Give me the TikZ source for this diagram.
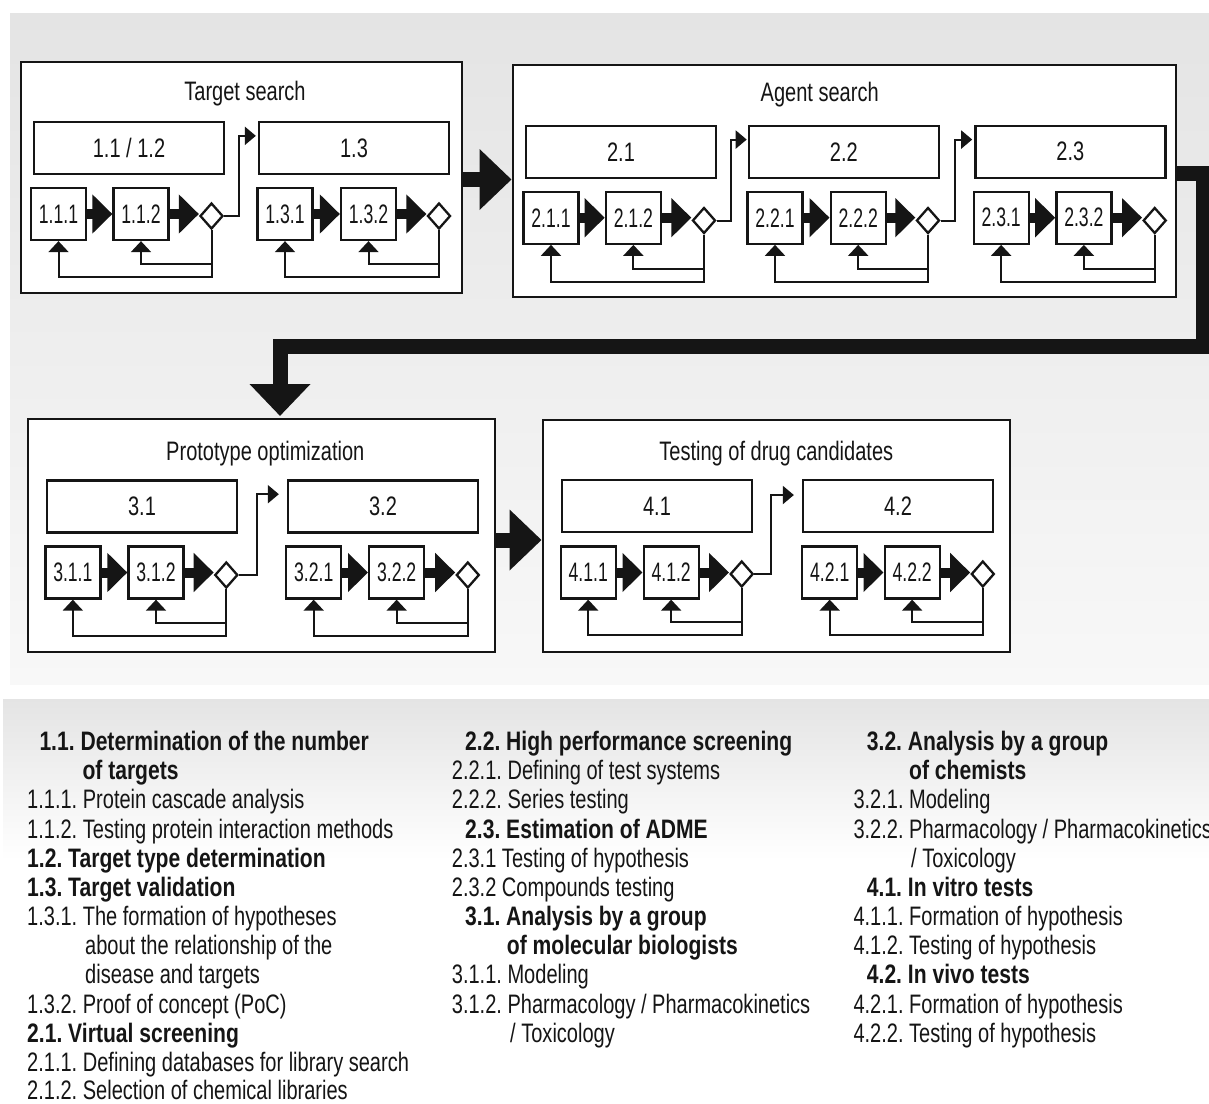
\documentclass[tikz,border=0pt]{standalone}
\usepackage{fontspec}
\setmainfont{Liberation Sans}[FakeStretch=0.75, BoldFeatures={FakeStretch=0.79}]
\newfontfamily\boxfont{Liberation Sans}[FakeStretch=0.66]
\usetikzlibrary{arrows.meta,shapes.geometric,calc}
\definecolor{bgtop}{HTML}{E4E4E4}
\definecolor{bgbot}{HTML}{F8F8F8}
\definecolor{ink}{HTML}{151515}
\frenchspacing
\tikzset{
  every node/.style={font=\fontsize{26.7}{29}\selectfont, text=ink},
  grp/.style={draw=ink, line width=2.3pt, fill=white, inner sep=0pt},
  midbox/.style={draw=ink, line width=2.3pt, fill=white, minimum width=190pt, minimum height=52pt, inner sep=0pt},
  smallbox/.style={draw=ink, line width=2.3pt, fill=white, minimum width=55pt, minimum height=52pt, inner sep=0pt, font=\fontsize{26.7}{29}\boxfont},
  dec/.style={diamond, draw=ink, line width=2.3pt, fill=white, minimum width=23pt, minimum height=26pt, inner sep=0pt},
  fat/.style={draw=ink, line width=10pt, -{Triangle[length=20pt,width=38pt]}},
  big/.style={draw=ink, line width=15pt, -{Triangle[length=32pt,width=59pt]}},
  fb/.style={draw=ink, line width=2pt, -{Triangle[length=11pt,width=20pt]}},
  nx/.style={draw=ink, line width=2pt, -{Triangle[length=11pt,width=18pt]}},
  ttl/.style={inner sep=0pt, anchor=base},
  lg/.style={anchor=base west, inner sep=0pt},
  lgb/.style={anchor=base west, inner sep=0pt, font=\fontsize{26.7}{29}\selectfont\bfseries},
}
% one row of two small steps, a decision and its feedback loops
\newcommand\subrow[8]{%
  \node[smallbox] (#1a) at (#4,#7) {#2};
  \node[smallbox] (#1b) at (#5,#7) {#3};
  \node[dec] (#1d) at (#6,#8) {};
  \draw[fat] (#1a.east) -- (#1a.east -| #1b.west);
  \draw[fat] (#1b.east) -- (#1b.east -| #1d.west);
  \draw[fb] (#1d.south) -- ++(0,47) -| (#1a.south);
  \draw[fb] (#1d.south) -- ++(0,34) -| (#1b.south);
}
\newcommand\lgl[5]{\node[#2] (#1) at (#3,{750.5+29.17*#4}) {#5};}
\begin{document}
\begin{tikzpicture}[x=1pt,y=-1pt]
\useasboundingbox (0,0) rectangle (1209,1103);
\fill[white] (0,0) rectangle (1209,1103);
\shade[top color=bgtop,bottom color=bgbot] (10,13) rectangle (1209,684);
\shade[top color=bgtop,bottom color=white] (3,699) rectangle (1209,860);

% ---------- Group 1
\node[grp, minimum width=441pt, minimum height=231.6pt] (g1) at (241.2,177.5) {};
\node[ttl] (t1) at (245,100.5) {Target search};
\node[midbox] (m11) at (129,148) {1.1 / 1.2};
\node[midbox] (m13) at (354,148) {1.3};
\subrow{s11}{1.1.1}{1.1.2}{58.5}{141}{211.5}{214}{216}
\subrow{s13}{1.3.1}{1.3.2}{285}{368.5}{439}{214}{216}
\draw[nx] (s11d.east) -- ++(15,0) |- ([yshift=-15pt,xshift=-2pt]m13.north west);

% ---------- Group 2
\node[grp, minimum width=663.3pt, minimum height=232pt] (g2) at (844.35,181) {};
\node[ttl] (t2) at (819.7,101.7) {Agent search};
\node[midbox] (m21) at (621,151.7) {2.1};
\node[midbox] (m22) at (843.85,151.7) {2.2};
\node[midbox] (m23) at (1070.35,151.7) {2.3};
\subrow{s21}{2.1.1}{2.1.2}{551}{633.35}{704}{217.7}{220.5}
\subrow{s22}{2.2.1}{2.2.2}{775}{858.2}{928}{217.7}{220.5}
\subrow{s23}{2.3.1}{2.3.2}{1001.15}{1083.85}{1154.7}{217.7}{220.5}
\draw[nx] (s21d.east) -- ++(14,0) |- ([yshift=-15pt,xshift=-1pt]m22.north west);
\draw[nx] (s22d.east) -- ++(14,0) |- ([yshift=-15pt,xshift=-2pt]m23.north west);

% ---------- Group 3
\node[grp, minimum width=467.3pt, minimum height=232.4pt] (g3) at (261.35,535.5) {};
\node[ttl] (t3) at (265.3,460) {Prototype optimization};
\node[midbox] (m31) at (142,506.35) {3.1};
\node[midbox] (m32) at (383,506.35) {3.2};
\subrow{s31}{3.1.1}{3.1.2}{72.85}{156}{226.3}{572.5}{575}
\subrow{s32}{3.2.1}{3.2.2}{313.7}{396.65}{467.8}{572.5}{575}
\draw[nx] (s31d.east) -- ++(18,0) |- ([yshift=-15pt,xshift=-8pt]m32.north west);

% ---------- Group 4
\node[grp, minimum width=467.3pt, minimum height=231.7pt] (g4) at (776.35,535.85) {};
\node[ttl] (t4) at (776.3,460) {Testing of drug candidates};
\node[midbox] (m41) at (657,506.15) {4.1};
\node[midbox] (m42) at (898,506.15) {4.2};
\subrow{s41}{4.1.1}{4.1.2}{588.2}{671.15}{741.7}{572.5}{574}
\subrow{s42}{4.2.1}{4.2.2}{829.7}{912.15}{982.8}{572.5}{574}
\draw[nx] (s41d.east) -- ++(17,0) |- ([yshift=-16pt,xshift=-8pt]m42.north west);

% ---------- Big connectors
\coordinate (a1) at ($(g1.east)+(0,2)$);
\draw[big] (a1) -- (a1 -| g2.west);
\coordinate (a3) at ($(g3.east)+(0,4.5)$);
\draw[big] (a3) -- (a3 -| g4.west);
\coordinate (k0) at ($(g2.east)+(0,-8)$);
\coordinate (k1) at (1203.5,173);
\coordinate (k2) at (1203.5,346);
\coordinate (k3) at (280,346);
\coordinate (k4) at (280,416);
\draw[big] (k0) -- (k1) -- (k2) -- (k3) -- (k4);

% ---------- Legend, column 1
\lgl{c1l0}{lgb}{39.3}{0}{1.1. Determination of the number}
\lgl{c1l1}{lgb}{82.3}{1}{of targets}
\lgl{c1l2}{lg}{27}{2}{1.1.1. Protein cascade analysis}
\lgl{c1l3}{lg}{27}{3}{1.1.2. Testing protein interaction methods}
\lgl{c1l4}{lgb}{27}{4}{1.2. Target type determination}
\lgl{c1l5}{lgb}{27}{5}{1.3. Target validation}
\lgl{c1l6}{lg}{27}{6}{1.3.1. The formation of hypotheses}
\lgl{c1l7}{lg}{85}{7}{about the relationship of the}
\lgl{c1l8}{lg}{85}{8}{disease and targets}
\lgl{c1l9}{lg}{27}{9}{1.3.2. Proof of concept (PoC)}
\lgl{c1l10}{lgb}{27}{10}{2.1. Virtual screening}
\lgl{c1l11}{lg}{27}{11}{2.1.1. Defining databases for library search}
\lgl{c1l12}{lg}{27}{11.97}{2.1.2. Selection of chemical libraries}

% ---------- Legend, column 2
\lgl{c2l0}{lgb}{465}{0}{2.2. High performance screening}
\lgl{c2l1}{lg}{451.7}{1}{2.2.1. Defining of test systems}
\lgl{c2l2}{lg}{451.7}{2}{2.2.2. Series testing}
\lgl{c2l3}{lgb}{465}{3}{2.3. Estimation of ADME}
\lgl{c2l4}{lg}{451.7}{4}{2.3.1 Testing of hypothesis}
\lgl{c2l5}{lg}{451.7}{5}{2.3.2 Compounds testing}
\lgl{c2l6}{lgb}{465}{6}{3.1. Analysis by a group}
\lgl{c2l7}{lgb}{506.7}{7}{of molecular biologists}
\lgl{c2l8}{lg}{451.7}{8}{3.1.1. Modeling}
\lgl{c2l9}{lg}{451.7}{9}{3.1.2. Pharmacology / Pharmacokinetics}
\lgl{c2l10}{lg}{510}{10}{/ Toxicology}

% ---------- Legend, column 3
\lgl{c3l0}{lgb}{866.7}{0}{3.2. Analysis by a group}
\lgl{c3l1}{lgb}{909}{1}{of chemists}
\lgl{c3l2}{lg}{853.3}{2}{3.2.1. Modeling}
\lgl{c3l3}{lg}{853.3}{3}{3.2.2. Pharmacology / Pharmacokinetics}
\lgl{c3l4}{lg}{911}{4}{/ Toxicology}
\lgl{c3l5}{lgb}{866.7}{5}{4.1. In vitro tests}
\lgl{c3l6}{lg}{853.3}{6}{4.1.1. Formation of hypothesis}
\lgl{c3l7}{lg}{853.3}{7}{4.1.2. Testing of hypothesis}
\lgl{c3l8}{lgb}{866.7}{8}{4.2. In vivo tests}
\lgl{c3l9}{lg}{853.3}{9}{4.2.1. Formation of hypothesis}
\lgl{c3l10}{lg}{853.3}{10}{4.2.2. Testing of hypothesis}
\end{tikzpicture}
\end{document}
